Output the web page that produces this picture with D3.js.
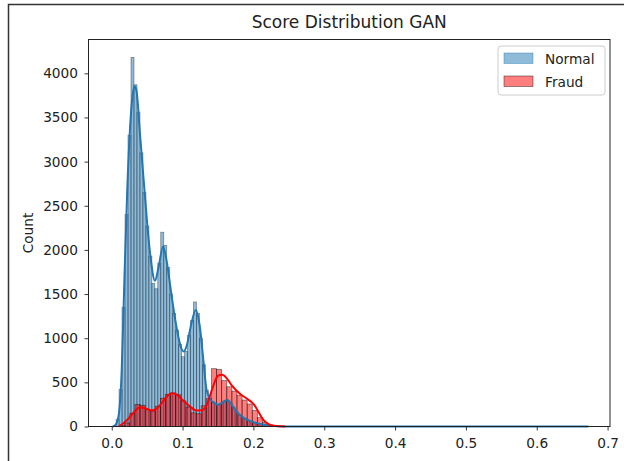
<!DOCTYPE html>
<html>
<head>
<meta charset="utf-8">
<script src="https://cdn.jsdelivr.net/npm/d3@7"></script>
<style>
  body { margin: 0; background: #fff; }
  text { font-family: "DejaVu Sans", sans-serif; fill: #222; }
</style>
</head>
<body>
<div id="container"></div>
<script>
// normal scores: bins start at 0.002, width 0.0042
var normalStart = 0.002;
var normalWidth = 0.0042;
var normalCounts = [12, 80, 420, 1350, 2400, 3300, 4180, 3870, 3560, 3100, 2650, 2270, 1930, 1620,
  1560, 1850, 2200, 2050, 1800, 1500, 1280, 1090, 930, 790, 850, 1030, 1200, 1410, 1280, 1000,
  700, 410, 320, 280, 255, 245, 265, 290, 298, 260, 215, 170, 130, 105, 85, 70, 52, 38, 26, 17,
  10, 6, 3, 2, 1];

// fraud scores: bins start at 0.0112, width 0.0072
var fraudStart = 0.0112;
var fraudWidth = 0.0072;
var fraudCounts = [10, 40, 150, 250, 240, 190, 175, 230, 320, 365, 380, 360, 290, 220, 155, 145,
  235, 315, 655, 645, 520, 450, 400, 355, 300, 255, 180, 100, 45, 18, 6];

// kde curves (score, count)
var normalKdeX = [0.002, 0.006, 0.010, 0.014, 0.018, 0.022, 0.026, 0.030, 0.0325, 0.035, 0.040, 0.0443,
  0.050, 0.055, 0.061, 0.066, 0.0725, 0.078, 0.085, 0.092, 0.0975, 0.1017, 0.106, 0.112, 0.1186,
  0.124, 0.130, 0.1337, 0.140, 0.145, 0.150, 0.156, 0.163, 0.170, 0.175, 0.181, 0.190, 0.200,
  0.215, 0.230, 0.245, 0.260, 0.673];
var normalKdeY = [0, 25, 140, 620, 1700, 2700, 3400, 3780, 3850, 3800, 3300, 2870,
  2300, 1900, 1650, 1800, 2040, 1850, 1450, 1100, 900, 850, 920, 1150, 1320,
  1150, 700, 420, 300, 265, 245, 270, 300, 240, 180, 130, 80, 50,
  20, 5, 1, 0, 0];
var fraudKdeX = [0.010, 0.020, 0.030, 0.0395, 0.050, 0.056, 0.063, 0.070, 0.078, 0.0843, 0.092, 0.100,
  0.110, 0.120, 0.128, 0.135, 0.142, 0.150, 0.156, 0.163, 0.170, 0.181, 0.190, 0.200, 0.2148,
  0.229, 0.245];
var fraudKdeY = [0, 60, 150, 215, 200, 182, 200, 260, 340, 377, 360, 300,
  230, 180, 185, 260, 430, 575, 585, 540, 460, 370, 320, 257, 68,
  8, 0];

var xTicks = [0.0, 0.1, 0.2, 0.3, 0.4, 0.5, 0.6, 0.7];
var yTicks = [0, 500, 1000, 1500, 2000, 2500, 3000, 3500, 4000];

var W = 624, H = 461;
var pLeft = 88.5, pRight = 610, pTop = 39.5, pBottom = 426.5;
var fs = 13.7;

var svg = d3.select("#container").append("svg")
  .attr("width", W)
  .attr("height", H);

// frame of the notebook cell
svg.append("path")
  .attr("d", "M8.5,461 L8.5,4.5 L624,4.5")
  .attr("fill", "none")
  .attr("stroke", "#333")
  .attr("stroke-width", 1.5);

var x = d3.scaleLinear().domain([-0.0328, 0.7034]).range([pLeft, pRight]);
var y = d3.scaleLinear().domain([0, 4383]).range([pBottom, pTop]);

function bins(start, width, counts) {
  return counts.map(function(c, i) {
    return { x0: start + i * width, x1: start + (i + 1) * width, n: c };
  });
}

// normal bars
svg.append("g").selectAll("rect")
  .data(bins(normalStart, normalWidth, normalCounts))
  .enter().append("rect")
  .attr("x", function(d) { return x(d.x0); })
  .attr("y", function(d) { return y(d.n); })
  .attr("width", function(d) { return x(d.x1) - x(d.x0); })
  .attr("height", function(d) { return y(0) - y(d.n); })
  .attr("fill", "#1f77b4")
  .attr("fill-opacity", 0.5)
  .attr("stroke", "#2a3a48")
  .attr("stroke-opacity", 0.55)
  .attr("stroke-width", 0.8);

// fraud bars
svg.append("g").selectAll("rect")
  .data(bins(fraudStart, fraudWidth, fraudCounts))
  .enter().append("rect")
  .attr("x", function(d) { return x(d.x0); })
  .attr("y", function(d) { return y(d.n); })
  .attr("width", function(d) { return x(d.x1) - x(d.x0); })
  .attr("height", function(d) { return y(0) - y(d.n); })
  .attr("fill", "red")
  .attr("fill-opacity", 0.5)
  .attr("stroke", "#000")
  .attr("stroke-opacity", 0.5)
  .attr("stroke-width", 0.8);

var line = d3.line()
  .x(function(d) { return x(d[0]); })
  .y(function(d) { return y(d[1]); })
  .curve(d3.curveMonotoneX);

svg.append("path")
  .attr("d", line(d3.zip(normalKdeX, normalKdeY)))
  .attr("fill", "none")
  .attr("stroke", "#1f77b4")
  .attr("stroke-width", 2);

svg.append("path")
  .attr("d", line(d3.zip(fraudKdeX, fraudKdeY)))
  .attr("fill", "none")
  .attr("stroke", "red")
  .attr("stroke-width", 2);

// axes
var xAxis = svg.append("g")
  .attr("transform", "translate(0," + pBottom + ")")
  .call(d3.axisBottom(x).tickValues(xTicks).tickFormat(d3.format(".1f")).tickSize(4).tickSizeOuter(0));
var yAxis = svg.append("g")
  .attr("transform", "translate(" + pLeft + ",0)")
  .call(d3.axisLeft(y).tickValues(yTicks).tickFormat(d3.format("d")).tickSize(4).tickSizeOuter(0));

[xAxis, yAxis].forEach(function(a) {
  a.select(".domain").remove();
  a.selectAll("line").attr("stroke", "#222").attr("stroke-width", 0.9);
  a.selectAll("text").attr("font-size", fs).attr("fill", "#222")
    .style("font-family", "DejaVu Sans, sans-serif");
});
xAxis.selectAll("text").attr("dy", "1.05em");
yAxis.selectAll("text").attr("x", -10.5);

// spines
svg.append("rect")
  .attr("x", pLeft).attr("y", pTop)
  .attr("width", pRight - pLeft).attr("height", pBottom - pTop)
  .attr("fill", "none")
  .attr("stroke", "#222")
  .attr("stroke-width", 1);

svg.append("text")
  .attr("x", (pLeft + pRight) / 2)
  .attr("y", 28)
  .attr("text-anchor", "middle")
  .attr("font-size", 17)
  .text("Score Distribution GAN");

svg.append("text")
  .attr("transform", "translate(33," + (pTop + pBottom) / 2 + ") rotate(-90)")
  .attr("text-anchor", "middle")
  .attr("font-size", fs)
  .text("Count");

// legend
var legend = svg.append("g").attr("transform", "translate(498,46)");
legend.append("rect")
  .attr("width", 107).attr("height", 49)
  .attr("rx", 3)
  .attr("fill", "#fff").attr("fill-opacity", 0.8)
  .attr("stroke", "#ccc");
var items = [
  { name: "Normal", fill: "#1f77b4", stroke: "#1f77b4" },
  { name: "Fraud", fill: "red", stroke: "#000" }
];
items.forEach(function(it, i) {
  legend.append("rect")
    .attr("x", 6).attr("y", 7 + i * 23)
    .attr("width", 29).attr("height", 10.5)
    .attr("fill", it.fill).attr("fill-opacity", 0.5)
    .attr("stroke", it.stroke).attr("stroke-opacity", 0.5)
    .attr("stroke-width", 0.8);
  legend.append("text")
    .attr("x", 47).attr("y", 17.5 + i * 23)
    .attr("font-size", fs)
    .text(it.name);
});
</script>
</body>
</html>
